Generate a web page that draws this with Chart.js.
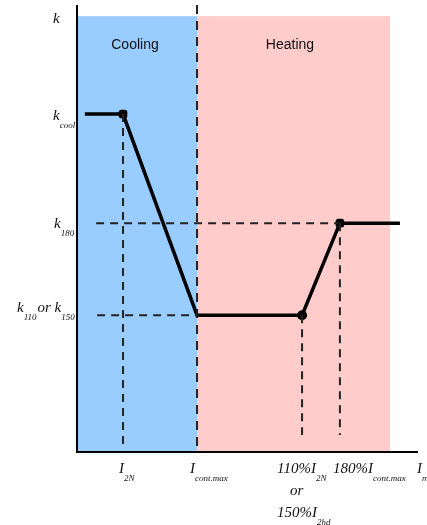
<!DOCTYPE html>
<html><head><meta charset="utf-8">
<script src="https://cdn.jsdelivr.net/npm/chart.js@4/dist/chart.umd.min.js"></script>
<style>html,body{margin:0;padding:0;background:#fff}#wrap{width:427px;height:525px;position:relative}</style>
</head><body><div id="wrap"><canvas id="c"></canvas></div>
<script>
// ---- data (arbitrary axis units: x 0..100, y 0..100) ----
const lineX = [2.3, 13.5, 35.2, 66.0, 77.1, 94.7];
const lineY = [75.6, 75.6, 30.6, 30.6, 51.2, 51.2];
const coolingRange = [0, 35.2];
const heatingRange = [35.2, 91.8];
const regionTop = 97.5;
const regionNames = ["Cooling", "Heating"];
// guide lines [x1,y1,x2,y2]
const guideK180 = [5.6, 51.2, 77.1, 51.2];
const guideK110 = [5.9, 30.6, 35.2, 30.6];
const guideI2N = [13.5, 75.6, 13.5, 1.5];
const guideI110 = [66.0, 30.6, 66.0, 3.8];
const guideI180 = [77.1, 51.2, 77.1, 3.8];
const guideIcont = [35.2, 100, 35.2, 0];
// tick labels: segments [text, isSubscript]
const yTickValues = [97.1, 75.6, 51.2, 30.6];
const yTickLabels = [
  [["k",0]],
  [["k",0],["cool",1]],
  [["k",0],["180",1]],
  [["k",0],["110",1],["or ",0],["k",0],["150",1]]
];
const xTickValues = [13.5, 35.2, 66.0, 77.1, 100];
const xTickLabels = [
  [[["I",0],["2N",1]]],
  [[["I",0],["cont.max",1]]],
  [[["110%I",0],["2N",1]],[["or",0]],[["150%I",0],["2hd",1]]],
  [[["180%I",0],["cont.max",1]]],
  [[["I",0],["m",1]]]
];

const SERIF = '"Liberation Serif", "DejaVu Serif", serif';
function segWidth(ctx, segs){
  let w=0;
  for(const [t,s] of segs){ctx.font = s? 'italic 9px '+SERIF : 'italic 15px '+SERIF; w+=ctx.measureText(t).width + (s?1:0);}
  return w;
}
function drawSegs(ctx, segs, x, y){
  let cx=x;
  for(const [t,s] of segs){
    ctx.font = s? 'italic 9px '+SERIF : 'italic 15px '+SERIF;
    ctx.fillText(t, cx, s? y+8 : y);
    cx += ctx.measureText(t).width + (s?1:0);
  }
}

const bgPlugin = {
  id:'bg',
  beforeDatasetsDraw(chart){
    const {ctx, scales:{x,y}} = chart;
    ctx.save();
    const top = y.getPixelForValue(regionTop), bot = y.getPixelForValue(0);
    ctx.fillStyle = '#99ccff';
    let a=x.getPixelForValue(coolingRange[0]), b=x.getPixelForValue(coolingRange[1]);
    ctx.fillRect(a, top, b-a, bot-top);
    ctx.fillStyle = '#ffcccc';
    a=x.getPixelForValue(heatingRange[0]); b=x.getPixelForValue(heatingRange[1]);
    ctx.fillRect(a, top, b-a, bot-top);
    // region names
    ctx.fillStyle='#111';
    ctx.font = '14px "Liberation Sans", Arial, sans-serif';
    ctx.textAlign='center'; ctx.textBaseline='middle';
    ctx.fillText(regionNames[0], 135, 45);
    ctx.fillText(regionNames[1], 290, 45);
    ctx.restore();
  },
  afterDatasetsDraw(chart){
    const {ctx, scales:{x,y}} = chart;
    ctx.save();
    // axes
    ctx.strokeStyle='#000'; ctx.lineWidth=2;
    const x0 = x.getPixelForValue(0), y0=y.getPixelForValue(0);
    ctx.beginPath();
    ctx.moveTo(x0, y.getPixelForValue(100)); ctx.lineTo(x0, y0);
    ctx.lineTo(x.getPixelForValue(100), y0);
    ctx.stroke();
    // y labels
    ctx.fillStyle='#111'; ctx.textBaseline='alphabetic'; ctx.textAlign='left';
    const yOff=[5,6,5,-3];
    const yLeft=[53,53,54,17];
    yTickValues.forEach((v,i)=>{
      drawSegs(ctx, yTickLabels[i], yLeft[i], y.getPixelForValue(v)+yOff[i]);
    });
    // x labels
    const xOff=[-4,-7,-25,-7,-1];
    xTickValues.forEach((v,i)=>{
      const lines=xTickLabels[i];
      let px=x.getPixelForValue(v)+xOff[i];
      lines.forEach((segs,j)=>{
        let lx=px;
        if(j===1){ lx = px + 13; }
        drawSegs(ctx, segs, lx, 473 + j*22);
      });
    });
    ctx.restore();
  }
};

function seg(g){return [{x:g[0],y:g[1]},{x:g[2],y:g[3]}];}
const dashStyle = {borderColor:'#222', borderWidth:2, borderDash:[8,6], pointRadius:0, fill:false, tension:0};

new Chart(document.getElementById('c'), {
  type:'line',
  data:{datasets:[
    Object.assign({data:seg(guideK180)}, dashStyle),
    Object.assign({data:seg(guideK110)}, dashStyle),
    Object.assign({data:seg(guideI2N)}, dashStyle),
    Object.assign({data:seg(guideI110)}, dashStyle),
    Object.assign({data:seg(guideI180)}, dashStyle),
    Object.assign({data:seg(guideIcont)}, dashStyle, {borderDash:[9,7]}),
    {data: lineX.map((v,i)=>({x:v,y:lineY[i]})), borderColor:'#000', borderWidth:3.5,
     pointRadius:[0,5,0,5,5,0], pointStyle:['circle','rectRounded','circle','circle','rectRounded','circle'],
     pointBackgroundColor:'#000', pointBorderColor:'#000', pointBorderWidth:0, fill:false, tension:0}
  ]},
  options:{
    responsive:true, maintainAspectRatio:false, animation:false,
    layout:{padding:{left:77, right:9, top:5, bottom:73}},
    plugins:{legend:{display:false}, tooltip:{enabled:false}},
    scales:{
      x:{type:'linear', min:0, max:100, display:false},
      y:{type:'linear', min:0, max:100, display:false}
    }
  },
  plugins:[bgPlugin]
});
</script></body></html>
